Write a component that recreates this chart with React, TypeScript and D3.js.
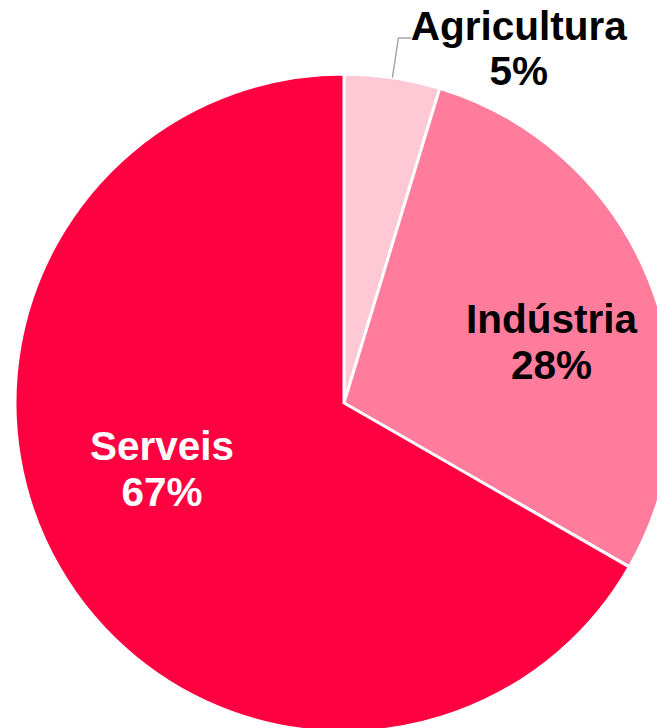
import React from "react";
import * as d3 from "d3";

const categories = ["Agricultura", "Indústria", "Serveis"];
const values = [4.7, 28.6, 66.7];
const labels = ["5%", "28%", "67%"];
const colors = ["#FFC8D5", "#FF7C9C", "#FF0041"];
const textColors = ["#000000", "#000000", "#FFFFFF"];

const W = 657;
const H = 728;
const cx = 344;
const cy = 403;
const R = 329;

// first-line baseline anchors: [angle in degrees from 12 o'clock, distance from center]
const labelPolar: [number, number][] = [
  [25.7, 403],
  [71.4, 219],
  [252.6, 190.7],
];

export default function App() {
  const pie = d3.pie<number>().sort(null).value((d) => d);
  const arcs = pie(values);
  const arc = d3.arc<d3.PieArcDatum<number>>().innerRadius(0).outerRadius(R);
  const fs = 40.5;
  const lh = 45.5;

  const a0 = arcs[0];
  const midA = (a0.startAngle + a0.endAngle) / 2;
  const p1: [number, number] = [Math.sin(midA) * R, -Math.cos(midA) * R];
  const p2: [number, number] = [p1[0] + 6, -365];
  const p3: [number, number] = [p2[0] + 13, -365];

  return (
    <svg
      width={W}
      height={H}
      style={{ position: "absolute", left: 0, top: 0 }}
      fontFamily="'Liberation Sans', Arial, sans-serif"
    >
      <g transform={`translate(${cx},${cy})`}>
        {arcs.map((a, i) => (
          <path
            key={categories[i]}
            d={arc(a) || ""}
            fill={colors[i]}
            stroke="#FFFFFF"
            strokeWidth={3}
            strokeLinejoin="miter"
          />
        ))}
        <polyline
          points={[p1, p2, p3].map((p) => p.join(",")).join(" ")}
          fill="none"
          stroke="#A6A6A6"
          strokeWidth={1.5}
        />
        {arcs.map((a, i) => {
          const [deg, dist] = labelPolar[i];
          const t = (deg * Math.PI) / 180;
          const x = Math.sin(t) * dist;
          const y = -Math.cos(t) * dist;
          return (
            <text
              key={"l" + i}
              x={x}
              y={y}
              textAnchor="middle"
              fontSize={fs}
              fontWeight="bold"
              fill={textColors[i]}
            >
              <tspan x={x} y={y}>
                {categories[i]}
              </tspan>
              <tspan x={x} dy={lh}>
                {labels[i]}
              </tspan>
            </text>
          );
        })}
      </g>
    </svg>
  );
}
